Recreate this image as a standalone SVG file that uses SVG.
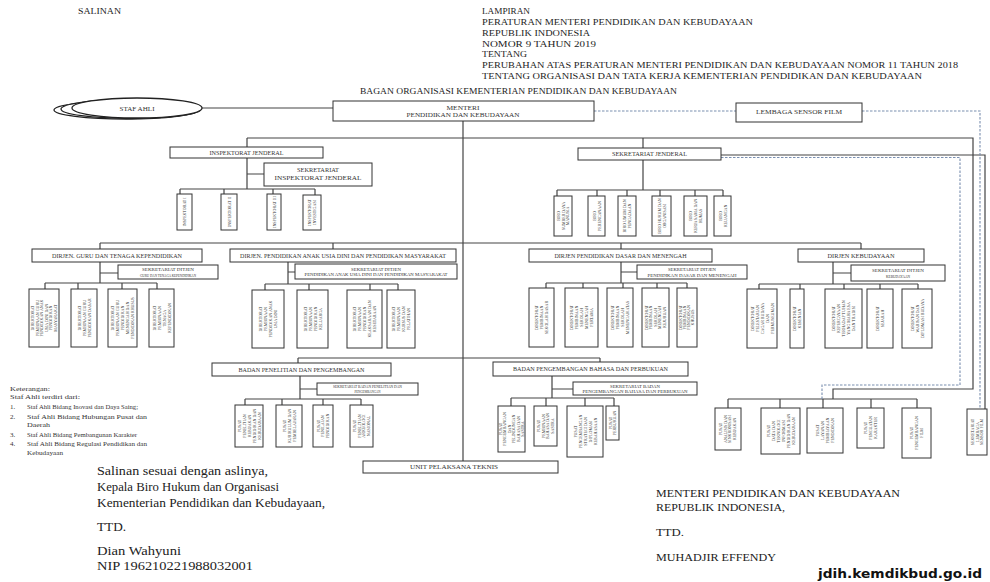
<svg xmlns="http://www.w3.org/2000/svg" width="990" height="582" viewBox="0 0 990 582">
<style>
.b{fill:#fff;stroke:#333;stroke-width:1}
.c{fill:none;stroke:#444;stroke-width:1.2}
.d{fill:none;stroke:#7a8fb0;stroke-width:1.1;stroke-dasharray:2.5 1.5}
.hd{font-family:"Liberation Serif",serif;font-size:9px;fill:#222}
.t{font-family:"Liberation Serif",serif;font-size:5.5px;fill:#333;text-anchor:middle}
.s{font-family:"Liberation Serif",serif;font-size:4.5px;fill:#333;text-anchor:middle}
.v{font-family:"Liberation Serif",serif;font-size:4px;fill:#333;text-anchor:middle}
.sig{font-family:"Liberation Serif",serif;font-size:12px;fill:#222}
.mr{font-family:"Liberation Serif",serif;font-size:10px;fill:#222}
.k{font-family:"Liberation Serif",serif;font-size:7px;fill:#333}
.el{fill:#fff;stroke:#222;stroke-width:1.3}
</style>
<rect width="990" height="582" fill="#fff"/>

<g id="header">
<text class="hd" x="78" y="14" textLength="43" lengthAdjust="spacingAndGlyphs">SALINAN</text>
<text class="hd" x="482" y="13.5" textLength="48" lengthAdjust="spacingAndGlyphs">LAMPIRAN</text>
<text class="hd" x="482" y="24.5" textLength="271" lengthAdjust="spacingAndGlyphs">PERATURAN MENTERI PENDIDIKAN DAN KEBUDAYAAN</text>
<text class="hd" x="482" y="35.5" textLength="108" lengthAdjust="spacingAndGlyphs">REPUBLIK INDONESIA</text>
<text class="hd" x="482" y="46.5" textLength="114" lengthAdjust="spacingAndGlyphs">NOMOR 9 TAHUN 2019</text>
<text class="hd" x="482" y="56.5" textLength="45" lengthAdjust="spacingAndGlyphs">TENTANG</text>
<text class="hd" x="482" y="67.5" textLength="476" lengthAdjust="spacingAndGlyphs">PERUBAHAN ATAS PERATURAN MENTERI PENDIDIKAN DAN KEBUDAYAAN NOMOR 11 TAHUN 2018</text>
<text class="hd" x="482" y="78.5" textLength="440" lengthAdjust="spacingAndGlyphs">TENTANG ORGANISASI DAN TATA KERJA KEMENTERIAN PENDIDIKAN DAN KEBUDAYAAN</text>
<text class="hd" x="360" y="94" font-size="10" textLength="317" lengthAdjust="spacingAndGlyphs">BAGAN ORGANISASI KEMENTERIAN PENDIDIKAN DAN KEBUDAYAAN</text>
</g>

<g id="connectors">
<path class="c" d="M202,108 H333"/>
<path class="c" d="M463,121 V461"/>
<path class="c" d="M247,138 H973 V389 H833 V399"/>
<path class="c" d="M247,138 V147 M643,138 V148"/>
<path class="c" d="M247,158 V189 M247,174 H264 M180,189 H315 M180,189 V194 M224,189 V194 M273,189 V194 M315,189 V195"/>
<path class="c" d="M643,160 V190 M557,190 H723 M557,190 V196 M597,190 V196 M627,190 V196 M660,190 V196 M695,190 V196 M723,190 V196"/>
<path class="c" d="M100,243 H861 M100,243 V249 M333,243 V249 M621,243 V249 M861,243 V249"/>
<path class="c" d="M100,262 V283 M100,273 H118 M45,283 H157 M45,283 V289 M78,283 V289 M122,283 V289 M157,283 V289"/>
<path class="c" d="M288,262 V284 M288,272 H295 M265,284 H398 M265,284 V290 M309,284 V290 M370,284 V290 M398,284 V290"/>
<path class="c" d="M621,262 V283 M621,272 H637 M546,283 H687 M546,283 V288 M583,283 V288 M623,283 V288 M657,283 V288 M687,283 V288"/>
<path class="c" d="M833,262 V284 M833,273 H851 M759,284 H918 M759,284 V289 M800,284 V289 M844,284 V289 M880,284 V289 M918,284 V289"/>
<path class="c" d="M298,358 H600 M298,358 V363 M600,358 V362"/>
<path class="c" d="M300,376 V399 M300,389 H317 M245,399 H361 M245,399 V405 M282,399 V405 M323,399 V405 M361,399 V405"/>
<path class="c" d="M552,376 V398 M552,389 H573 M511,398 H614 M511,398 V406 M546,398 V406 M585,398 V406 M614,398 V406"/>
<path class="c" d="M728,399 H917 M728,399 V408 M780,399 V408 M823,399 V408 M871,399 V408 M917,399 V408"/>
<path class="c" d="M721,155 H985 V409"/>
<path class="d" d="M594,111 H736"/>
<path class="d" d="M862,111 H980 V409"/>
<path class="d" d="M721,157.5 H960 V385 H822 V399"/>
</g>

<g id="staf-ahli">
<ellipse class="el" cx="126" cy="110" rx="72" ry="9"/>
<ellipse class="el" cx="131" cy="109" rx="70" ry="9.5"/>
<ellipse class="el" cx="137" cy="108" rx="65" ry="10"/>
<text class="t" x="137" y="110.5" font-size="6" textLength="35" lengthAdjust="spacingAndGlyphs">STAF AHLI</text>
</g>

<g id="menteri">
<rect class="b" x="333" y="101" width="261" height="20"/>
<text class="t" x="463" y="110" font-size="6.5" textLength="33" lengthAdjust="spacingAndGlyphs">MENTERI</text>
<text class="t" x="463" y="116.5" font-size="6" textLength="113" lengthAdjust="spacingAndGlyphs">PENDIDIKAN DAN KEBUDAYAAN</text>
</g>

<g id="lembaga-sensor-film">
<rect class="b" x="736" y="103" width="126" height="19"/>
<text class="t" x="799" y="114" font-size="6" textLength="86" lengthAdjust="spacingAndGlyphs">LEMBAGA SENSOR FILM</text>
</g>

<g id="inspektorat-jenderal">
<rect class="b" x="170" y="147" width="153" height="11"/>
<text class="t" x="246.5" y="154.5" font-size="5" textLength="74" lengthAdjust="spacingAndGlyphs">INSPEKTORAT JENDERAL</text>
</g>
<g id="sekretariat-itjen">
<rect class="b" x="264" y="163" width="108" height="23"/>
<text class="t" x="318" y="172" font-size="7" textLength="42" lengthAdjust="spacingAndGlyphs">SEKRETARIAT</text>
<text class="t" x="318" y="179.5" font-size="5.5" textLength="87" lengthAdjust="spacingAndGlyphs">INSPEKTORAT JENDERAL</text>
</g>
<g id="itjen-1"><rect class="b" x="177" y="194" width="15" height="36"/><text class="v" transform="translate(184.5,212) rotate(-90)"><tspan x="0" y="1.5">INSPEKTORAT I</tspan></text></g>
<g id="itjen-2"><rect class="b" x="221" y="194" width="16" height="36"/><text class="v" transform="translate(229,212) rotate(-90)"><tspan x="0" y="1.5">INSPEKTORAT II</tspan></text></g>
<g id="itjen-3"><rect class="b" x="267" y="194" width="14" height="36"/><text class="v" transform="translate(274,212) rotate(-90)"><tspan x="0" y="1.5">INSPEKTORAT III</tspan></text></g>
<g id="itjen-4"><rect class="b" x="303" y="195" width="18" height="35"/><text class="v" transform="translate(312,212.5) rotate(-90)"><tspan x="0" y="-1">INSPEKTORAT</tspan><tspan x="0" y="4">INVESTIGASI</tspan></text></g>

<g id="sekretariat-jenderal">
<rect class="b" x="578" y="148" width="143" height="12"/>
<text class="t" x="649.5" y="156" font-size="5" textLength="75" lengthAdjust="spacingAndGlyphs">SEKRETARIAT JENDERAL</text>
</g>
<g id="sekjen-1"><rect class="b" x="554" y="196" width="18" height="40"/><text class="v" transform="translate(563,216) rotate(-90)"><tspan x="0" y="-3">BIRO</tspan><tspan x="0" y="1.5">SUMBER DAYA</tspan><tspan x="0" y="6">MANUSIA</tspan></text></g>
<g id="sekjen-2"><rect class="b" x="588" y="196" width="17" height="40"/><text class="v" transform="translate(596.5,216) rotate(-90)"><tspan x="0" y="-1">BIRO</tspan><tspan x="0" y="4">PERENCANAAN</tspan></text></g>
<g id="sekjen-3"><rect class="b" x="618" y="196" width="18" height="40"/><text class="v" transform="translate(627,216) rotate(-90)"><tspan x="0" y="-1">BIRO UMUM DAN</tspan><tspan x="0" y="4">PENGADAAN</tspan></text></g>
<g id="sekjen-4"><rect class="b" x="652" y="196" width="19" height="40"/><text class="v" transform="translate(661.5,216) rotate(-90)"><tspan x="0" y="-1">BIRO HUKUM DAN</tspan><tspan x="0" y="4">ORGANISASI</tspan></text></g>
<g id="sekjen-5"><rect class="b" x="684" y="196" width="23" height="40"/><text class="v" transform="translate(695.5,216) rotate(-90)"><tspan x="0" y="-3.5">BIRO</tspan><tspan x="0" y="1.5">KERJA SAMA DAN</tspan><tspan x="0" y="6.5">HUMAS</tspan></text></g>
<g id="sekjen-6"><rect class="b" x="714" y="196" width="17" height="40"/><text class="v" transform="translate(722.5,216) rotate(-90)"><tspan x="0" y="-1">BIRO</tspan><tspan x="0" y="4">KEUANGAN</tspan></text></g>

<g id="dirjen-gtk">
<rect class="b" x="32" y="249" width="170" height="13"/>
<text class="t" x="117" y="257.5" textLength="130" lengthAdjust="spacingAndGlyphs">DIRJEN. GURU DAN TENAGA KEPENDIDIKAN</text>
</g>
<g id="sekretariat-gtk">
<rect class="b" x="118" y="265" width="100" height="14"/>
<text class="s" x="168" y="271" textLength="52" lengthAdjust="spacingAndGlyphs">SEKRETARIAT DITJEN</text>
<text class="s" x="168" y="276.5" textLength="56" lengthAdjust="spacingAndGlyphs">GURU DAN TENAGA KEPENDIDIKAN</text>
</g>
<g id="gtk-1"><rect class="b" x="29" y="289" width="30" height="58"/><text class="v" transform="translate(44,318) rotate(-90)"><tspan x="0" y="-10">DIREKTORAT</tspan><tspan x="0" y="-5.5">PEMBINAAN GURU</tspan><tspan x="0" y="-1">PENDIDIKAN ANAK</tspan><tspan x="0" y="3.5">USIA DINI DAN</tspan><tspan x="0" y="8">PENDIDIKAN</tspan><tspan x="0" y="12.5">MASYARAKAT</tspan></text></g>
<g id="gtk-2"><rect class="b" x="71" y="289" width="26" height="58"/><text class="v" transform="translate(84,318) rotate(-90)"><tspan x="0" y="-3.5">DIREKTORAT</tspan><tspan x="0" y="1.5">PEMBINAAN GURU</tspan><tspan x="0" y="6.5">PENDIDIKAN DASAR</tspan></text></g>
<g id="gtk-3"><rect class="b" x="108" y="289" width="29" height="58"/><text class="v" transform="translate(122.5,318) rotate(-90)"><tspan x="0" y="-8.5">DIREKTORAT</tspan><tspan x="0" y="-3.5">PEMBINAAN GURU</tspan><tspan x="0" y="1.5">PENDIDIKAN</tspan><tspan x="0" y="6.5">MENENGAH DAN</tspan><tspan x="0" y="11.5">PENDIDIKAN KHUSUS</tspan></text></g>
<g id="gtk-4"><rect class="b" x="149" y="289" width="25" height="58"/><text class="v" transform="translate(161.5,318) rotate(-90)"><tspan x="0" y="-6">DIREKTORAT</tspan><tspan x="0" y="-1">PEMBINAAN</tspan><tspan x="0" y="4">TENAGA</tspan><tspan x="0" y="9">KEPENDIDIKAN</tspan></text></g>

<g id="dirjen-paud">
<rect class="b" x="230" y="249" width="226" height="13"/>
<text class="t" x="343" y="257.5" textLength="206" lengthAdjust="spacingAndGlyphs">DIRJEN. PENDIDIKAN ANAK USIA DINI DAN PENDIDIKAN MASYARAKAT</text>
</g>
<g id="sekretariat-paud">
<rect class="b" x="295" y="264" width="162" height="15"/>
<text class="s" x="376" y="270.5" textLength="50" lengthAdjust="spacingAndGlyphs">SEKRETARIAT DITJEN</text>
<text class="s" x="376" y="276" textLength="143" lengthAdjust="spacingAndGlyphs">PENDIDIKAN ANAK USIA DINI DAN PENDIDIKAN MASYARAKAT</text>
</g>
<g id="paud-1"><rect class="b" x="252" y="290" width="32" height="58"/><text class="v" transform="translate(268,319) rotate(-90)"><tspan x="0" y="-6">DIREKTORAT</tspan><tspan x="0" y="-1">PEMBINAAN</tspan><tspan x="0" y="4">PENDIDIKAN ANAK</tspan><tspan x="0" y="9">USIA DINI</tspan></text></g>
<g id="paud-2"><rect class="b" x="297" y="290" width="31" height="58"/><text class="v" transform="translate(312.5,319) rotate(-90)"><tspan x="0" y="-6">DIREKTORAT</tspan><tspan x="0" y="-1">PEMBINAAN</tspan><tspan x="0" y="4">PENDIDIKAN</tspan><tspan x="0" y="9">KELUARGA</tspan></text></g>
<g id="paud-3"><rect class="b" x="347" y="290" width="35" height="58"/><text class="v" transform="translate(364.5,319) rotate(-90)"><tspan x="0" y="-8.5">DIREKTORAT</tspan><tspan x="0" y="-3.5">PEMBINAAN</tspan><tspan x="0" y="1.5">PENDIDIKAN</tspan><tspan x="0" y="6.5">KEAKSARAAN DAN</tspan><tspan x="0" y="11.5">KESETARAAN</tspan></text></g>
<g id="paud-4"><rect class="b" x="387" y="290" width="28" height="58"/><text class="v" transform="translate(401,319) rotate(-90)"><tspan x="0" y="-6">DIREKTORAT</tspan><tspan x="0" y="-1">PEMBINAAN</tspan><tspan x="0" y="4">KURSUS DAN</tspan><tspan x="0" y="9">PELATIHAN</tspan></text></g>

<g id="dirjen-dikdasmen">
<rect class="b" x="529" y="249" width="183" height="13"/>
<text class="t" x="620.5" y="257.5" textLength="132" lengthAdjust="spacingAndGlyphs">DIRJEN PENDIDIKAN DASAR DAN MENENGAH</text>
</g>
<g id="sekretariat-dikdasmen">
<rect class="b" x="637" y="265" width="110" height="14"/>
<text class="s" x="692" y="271" textLength="48" lengthAdjust="spacingAndGlyphs">SEKRETARIAT DITJEN</text>
<text class="s" x="692" y="276.5" textLength="89" lengthAdjust="spacingAndGlyphs">PENDIDIKAN DASAR DAN MENENGAH</text>
</g>
<g id="dikdasmen-1"><rect class="b" x="529" y="288" width="25" height="59"/><text class="v" transform="translate(541.5,317.5) rotate(-90)"><tspan x="0" y="-3.5">DIREKTORAT</tspan><tspan x="0" y="1.5">PEMBINAAN</tspan><tspan x="0" y="6.5">SEKOLAH DASAR</tspan></text></g>
<g id="dikdasmen-2"><rect class="b" x="565" y="288" width="33" height="59"/><text class="v" transform="translate(581.5,317.5) rotate(-90)"><tspan x="0" y="-8.5">DIREKTORAT</tspan><tspan x="0" y="-3.5">PEMBINAAN</tspan><tspan x="0" y="1.5">SEKOLAH</tspan><tspan x="0" y="6.5">MENENGAH</tspan><tspan x="0" y="11.5">PERTAMA</tspan></text></g>
<g id="dikdasmen-3"><rect class="b" x="607" y="288" width="26" height="59"/><text class="v" transform="translate(620,317.5) rotate(-90)"><tspan x="0" y="-6">DIREKTORAT</tspan><tspan x="0" y="-1">PEMBINAAN</tspan><tspan x="0" y="4">SEKOLAH</tspan><tspan x="0" y="9">MENENGAH ATAS</tspan></text></g>
<g id="dikdasmen-4"><rect class="b" x="642" y="288" width="27" height="59"/><text class="v" transform="translate(655.5,317.5) rotate(-90)"><tspan x="0" y="-8">DIREKTORAT</tspan><tspan x="0" y="-3.5">PEMBINAAN</tspan><tspan x="0" y="1">SEKOLAH</tspan><tspan x="0" y="5.5">MENENGAH</tspan><tspan x="0" y="10">KEJURUAN</tspan></text></g>
<g id="dikdasmen-5"><rect class="b" x="677" y="288" width="20" height="59"/><text class="v" transform="translate(687,317.5) rotate(-90)"><tspan x="0" y="-5">DIREKTORAT</tspan><tspan x="0" y="-1">PEMBINAAN</tspan><tspan x="0" y="3">PENDIDIKAN</tspan><tspan x="0" y="7">KHUSUS</tspan></text></g>

<g id="dirjen-kebudayaan">
<rect class="b" x="798" y="249" width="126" height="13"/>
<text class="t" x="861" y="257.5" textLength="67" lengthAdjust="spacingAndGlyphs">DIRJEN KEBUDAYAAN</text>
</g>
<g id="sekretariat-kebudayaan">
<rect class="b" x="851" y="265" width="94" height="16"/>
<text class="s" x="898" y="271.5" textLength="52" lengthAdjust="spacingAndGlyphs">SEKRETARIAT DITJEN</text>
<text class="s" x="898" y="277.5" textLength="24" lengthAdjust="spacingAndGlyphs">KEBUDAYAAN</text>
</g>
<g id="kebudayaan-1"><rect class="b" x="747" y="289" width="30" height="59"/><text class="v" transform="translate(762,318.5) rotate(-90)"><tspan x="0" y="-8.5">DIREKTORAT</tspan><tspan x="0" y="-3.5">PELESTARIAN</tspan><tspan x="0" y="1.5">CAGAR BUDAYA</tspan><tspan x="0" y="6.5">DAN</tspan><tspan x="0" y="11.5">PERMUSEUMAN</tspan></text></g>
<g id="kebudayaan-2"><rect class="b" x="790" y="289" width="14" height="59"/><text class="v" transform="translate(797,318.5) rotate(-90)"><tspan x="0" y="-1">DIREKTORAT</tspan><tspan x="0" y="4">KESENIAN</tspan></text></g>
<g id="kebudayaan-3"><rect class="b" x="825" y="289" width="37" height="59"/><text class="v" transform="translate(843.5,318.5) rotate(-90)"><tspan x="0" y="-8.5">DIREKTORAT</tspan><tspan x="0" y="-3.5">KEPERCAYAAN</tspan><tspan x="0" y="1.5">TERHADAP TUHAN</tspan><tspan x="0" y="6.5">YANG MAHA ESA</tspan><tspan x="0" y="11.5">DAN TRADISI</tspan></text></g>
<g id="kebudayaan-4"><rect class="b" x="867" y="289" width="26" height="59"/><text class="v" transform="translate(880,318.5) rotate(-90)"><tspan x="0" y="-1">DIREKTORAT</tspan><tspan x="0" y="4">SEJARAH</tspan></text></g>
<g id="kebudayaan-5"><rect class="b" x="902" y="289" width="30" height="59"/><text class="v" transform="translate(917,318.5) rotate(-90)"><tspan x="0" y="-3.5">DIREKTORAT</tspan><tspan x="0" y="1.5">WARISAN DAN</tspan><tspan x="0" y="6.5">DIPLOMASI BUDAYA</tspan></text></g>

<g id="badan-litbang">
<rect class="b" x="212" y="363" width="179" height="13"/>
<text class="t" x="301.5" y="371.5" textLength="126" lengthAdjust="spacingAndGlyphs">BADAN PENELITIAN DAN PENGEMBANGAN</text>
</g>
<g id="sekretariat-litbang">
<rect class="b" x="317" y="383" width="101" height="12"/>
<text class="s" x="367.5" y="388.3" font-size="4" textLength="69" lengthAdjust="spacingAndGlyphs">SEKRETARIAT BADAN PENELITIAN DAN</text>
<text class="s" x="367.5" y="393" font-size="4" textLength="26" lengthAdjust="spacingAndGlyphs">PENGEMBANGAN</text>
</g>
<g id="litbang-1"><rect class="b" x="235" y="405" width="28" height="42"/><text class="v" transform="translate(249,426) rotate(-90)"><tspan x="0" y="-8.5">PUSAT</tspan><tspan x="0" y="-3.5">PENELITIAN</tspan><tspan x="0" y="1.5">KEBIJAKAN</tspan><tspan x="0" y="6.5">PENDIDIKAN DAN</tspan><tspan x="0" y="11.5">KEBUDAYAAN</tspan></text></g>
<g id="litbang-2"><rect class="b" x="276" y="405" width="26" height="42"/><text class="v" transform="translate(289,426) rotate(-90)"><tspan x="0" y="-3.5">PUSAT</tspan><tspan x="0" y="1.5">KURIKULUM DAN</tspan><tspan x="0" y="6.5">PEMBELAJARAN</tspan></text></g>
<g id="litbang-3"><rect class="b" x="313" y="405" width="20" height="42"/><text class="v" transform="translate(323,426) rotate(-90)"><tspan x="0" y="-3.5">PUSAT</tspan><tspan x="0" y="1">PENILAIAN</tspan><tspan x="0" y="5.5">PENDIDIKAN</tspan></text></g>
<g id="litbang-4"><rect class="b" x="350" y="405" width="23" height="42"/><text class="v" transform="translate(361.5,426) rotate(-90)"><tspan x="0" y="-5.5">PUSAT</tspan><tspan x="0" y="-1">PENELITIAN</tspan><tspan x="0" y="3.5">ARKEOLOGI</tspan><tspan x="0" y="8">NASIONAL</tspan></text></g>

<g id="badan-bahasa">
<rect class="b" x="493" y="362" width="195" height="14"/>
<text class="t" x="590.5" y="371" textLength="155" lengthAdjust="spacingAndGlyphs">BADAN PENGEMBANGAN BAHASA DAN PERBUKUAN</text>
</g>
<g id="sekretariat-bahasa">
<rect class="b" x="573" y="382" width="124" height="13"/>
<text class="s" x="635" y="387.5" textLength="50" lengthAdjust="spacingAndGlyphs">SEKRETARIAT BADAN</text>
<text class="s" x="635" y="393" textLength="105" lengthAdjust="spacingAndGlyphs">PENGEMBANGAN BAHASA DAN PERBUKUAN</text>
</g>
<g id="bahasa-1"><rect class="b" x="498" y="406" width="27" height="46"/><text class="v" transform="translate(511.5,429) rotate(-90)"><tspan x="0" y="-10">PUSAT</tspan><tspan x="0" y="-5.5">PENGEMBANGAN</tspan><tspan x="0" y="-1">DAN</tspan><tspan x="0" y="3.5">PELINDUNGAN</tspan><tspan x="0" y="8">BAHASA DAN</tspan><tspan x="0" y="12.5">SASTRA</tspan></text></g>
<g id="bahasa-2"><rect class="b" x="534" y="406" width="23" height="40"/><text class="v" transform="translate(545.5,426) rotate(-90)"><tspan x="0" y="-5.5">PUSAT</tspan><tspan x="0" y="-1">PEMBINAAN</tspan><tspan x="0" y="3.5">BAHASA DAN</tspan><tspan x="0" y="8">SASTRA</tspan></text></g>
<g id="bahasa-3"><rect class="b" x="567" y="406" width="36" height="51"/><text class="v" transform="translate(585,431.5) rotate(-90)"><tspan x="0" y="-8.5">PUSAT</tspan><tspan x="0" y="-3.5">PENGEMBANGAN</tspan><tspan x="0" y="1.5">STRATEGI DAN</tspan><tspan x="0" y="6.5">DIPLOMASI</tspan><tspan x="0" y="11.5">KEBAHASAAN</tspan></text></g>
<g id="bahasa-4"><rect class="b" x="606" y="406" width="13" height="34"/><text class="v" transform="translate(612.5,423) rotate(-90)"><tspan x="0" y="-1">PUSAT</tspan><tspan x="0" y="3.5">PERBUKUAN</tspan></text></g>

<g id="unit-pelaksana-teknis">
<rect class="b" x="363" y="461" width="195" height="12"/>
<text class="t" x="454" y="469" font-size="5" textLength="88" lengthAdjust="spacingAndGlyphs">UNIT PELAKSANA TEKNIS</text>
</g>

<g id="pusat-1"><rect class="b" x="715" y="408" width="26" height="42"/><text class="v" transform="translate(728,429) rotate(-90)"><tspan x="0" y="-6">PUSAT</tspan><tspan x="0" y="-1.5">ANALISIS DAN</tspan><tspan x="0" y="3">SINKRONISASI</tspan><tspan x="0" y="7.5">KEBIJAKAN</tspan></text></g>
<g id="pusat-2"><rect class="b" x="761" y="408" width="39" height="46"/><text class="v" transform="translate(780.5,431) rotate(-90)"><tspan x="0" y="-11">PUSAT</tspan><tspan x="0" y="-6">DATA DAN</tspan><tspan x="0" y="-1">TEKNOLOGI</tspan><tspan x="0" y="4">INFORMASI</tspan><tspan x="0" y="9">PENDIDIKAN DAN</tspan><tspan x="0" y="14">KEBUDAYAAN</tspan></text></g>
<g id="pusat-3"><rect class="b" x="807" y="408" width="36" height="45"/><text class="v" transform="translate(825,430.5) rotate(-90)"><tspan x="0" y="-6">PUSAT</tspan><tspan x="0" y="-1">LAYANAN</tspan><tspan x="0" y="4">PEMBIAYAAN</tspan><tspan x="0" y="9">PENDIDIKAN</tspan></text></g>
<g id="pusat-4"><rect class="b" x="857" y="408" width="27" height="40"/><text class="v" transform="translate(870.5,428) rotate(-90)"><tspan x="0" y="-3.5">PUSAT</tspan><tspan x="0" y="1.5">PENGUATAN</tspan><tspan x="0" y="6.5">KARAKTER</tspan></text></g>
<g id="pusat-5"><rect class="b" x="902" y="408" width="29" height="50"/><text class="v" transform="translate(916.5,433) rotate(-90)"><tspan x="0" y="-3.5">PUSAT</tspan><tspan x="0" y="1.5">PENGEMBANGAN</tspan><tspan x="0" y="6.5">FILM</tspan></text></g>
<g id="sekretariat-lsf"><rect class="b" x="967" y="409" width="20" height="46"/><text class="v" transform="translate(977,432) rotate(-90)"><tspan x="0" y="-3">SEKRETARIAT</tspan><tspan x="0" y="1.5">LEMBAGA</tspan><tspan x="0" y="6">SENSOR FILM</tspan></text></g>

<g id="keterangan">
<text class="k" x="10" y="390.5" textLength="40" lengthAdjust="spacingAndGlyphs">Keterangan:</text>
<text class="k" x="10" y="399" textLength="70" lengthAdjust="spacingAndGlyphs">Staf Ahli terdiri dari:</text>
<text class="k" x="10" y="408.5">1.</text><text class="k" x="27" y="408.5" textLength="111" lengthAdjust="spacingAndGlyphs">Staf Ahli Bidang Inovasi dan Daya Saing;</text>
<text class="k" x="10" y="418.5">2.</text><text class="k" x="27" y="418.5" textLength="120" lengthAdjust="spacingAndGlyphs">Staf Ahli Bidang Hubungan Pusat dan</text>
<text class="k" x="27" y="427" textLength="23" lengthAdjust="spacingAndGlyphs">Daerah</text>
<text class="k" x="10" y="436.5">3.</text><text class="k" x="27" y="436.5" textLength="110" lengthAdjust="spacingAndGlyphs">Staf Ahli Bidang Pembangunan Karakter</text>
<text class="k" x="10" y="445.5">4.</text><text class="k" x="27" y="445.5" textLength="120" lengthAdjust="spacingAndGlyphs">Staf Ahli Bidang Regulasi Pendidikan dan</text>
<text class="k" x="27" y="454.5" textLength="36" lengthAdjust="spacingAndGlyphs">Kebudayaan</text>
</g>

<g id="signature-left">
<text class="sig" x="97" y="475" textLength="171" lengthAdjust="spacingAndGlyphs">Salinan sesuai dengan aslinya,</text>
<text class="sig" x="97" y="491" textLength="182" lengthAdjust="spacingAndGlyphs">Kepala Biro Hukum dan Organisasi</text>
<text class="sig" x="97" y="507" textLength="228" lengthAdjust="spacingAndGlyphs">Kementerian Pendidikan dan Kebudayaan,</text>
<text class="sig" x="97" y="531" textLength="29" lengthAdjust="spacingAndGlyphs">TTD.</text>
<text class="sig" x="97" y="555" textLength="84" lengthAdjust="spacingAndGlyphs">Dian Wahyuni</text>
<text class="sig" x="97" y="570" textLength="156" lengthAdjust="spacingAndGlyphs">NIP 196210221988032001</text>
</g>

<g id="signature-right">
<text class="mr" x="656" y="497" textLength="244" lengthAdjust="spacingAndGlyphs">MENTERI PENDIDIKAN DAN KEBUDAYAAN</text>
<text class="mr" x="656" y="511" textLength="129" lengthAdjust="spacingAndGlyphs">REPUBLIK INDONESIA,</text>
<text class="mr" x="656" y="536" textLength="28" lengthAdjust="spacingAndGlyphs">TTD.</text>
<text class="mr" x="656" y="561" textLength="120" lengthAdjust="spacingAndGlyphs">MUHADJIR EFFENDY</text>
<text x="818" y="578" font-family="'DejaVu Sans',sans-serif" font-weight="bold" font-size="12.5" fill="#111" textLength="164" lengthAdjust="spacingAndGlyphs">jdih.kemdikbud.go.id</text>
</g>
</svg>
